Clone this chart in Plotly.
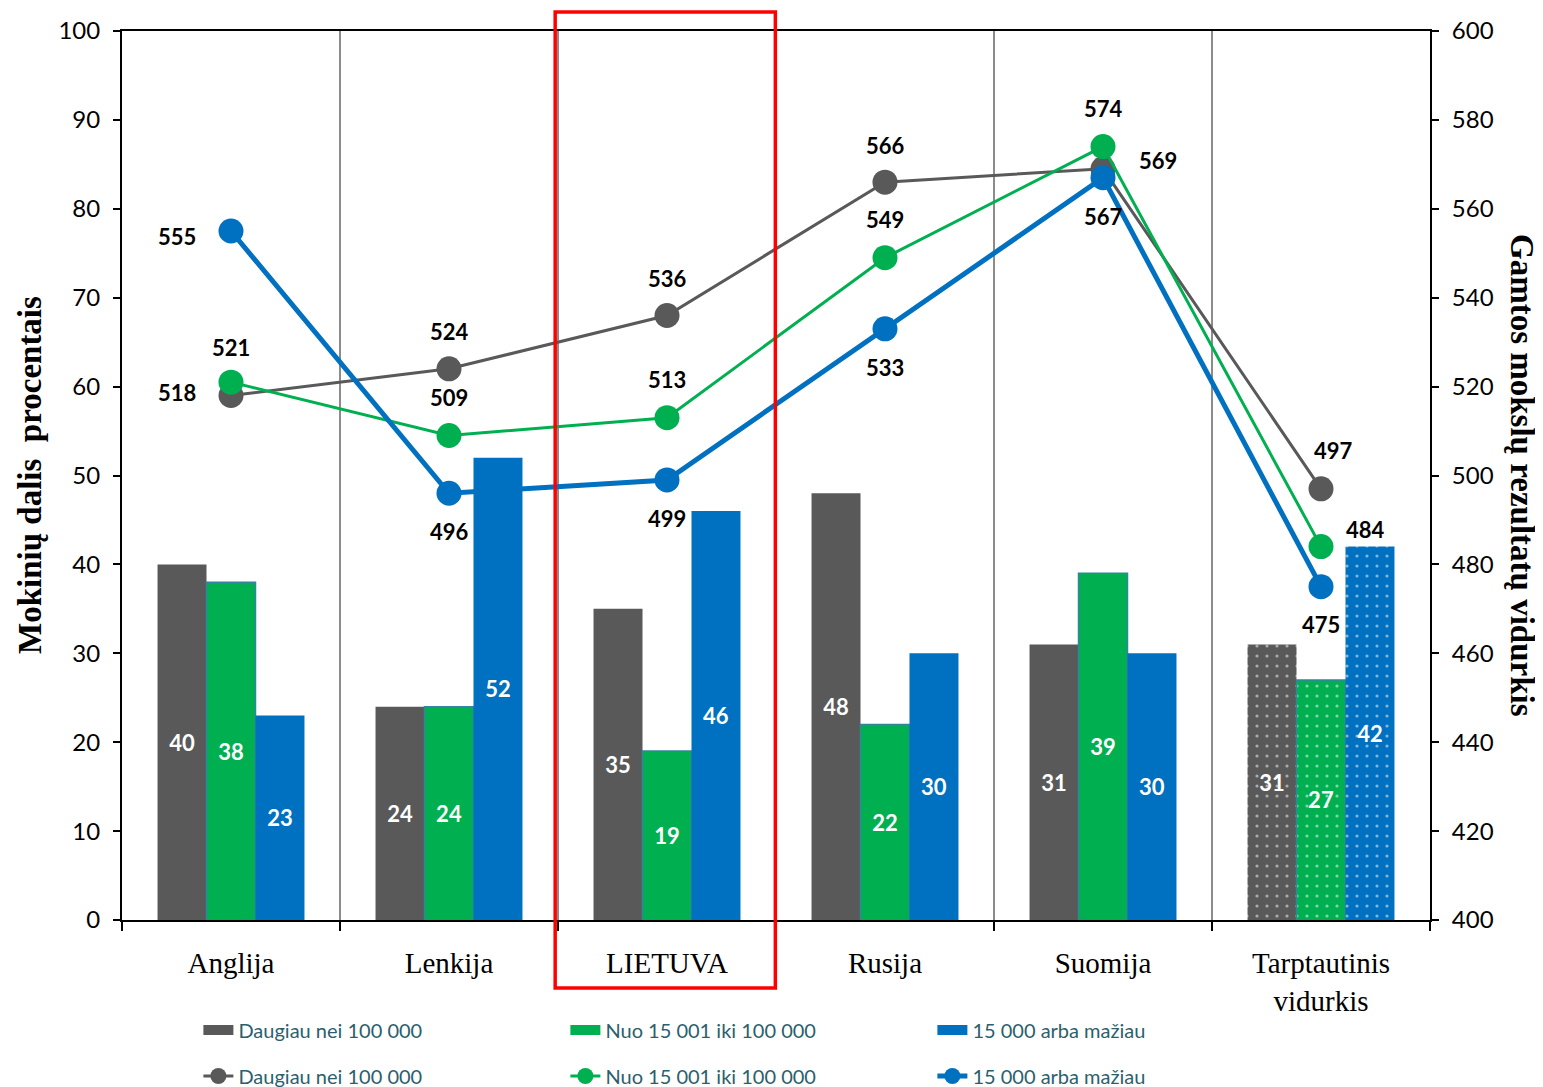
import plotly.graph_objects as go

# categories and values
countries = ["Anglija", "Lenkija", "LIETUVA", "Rusija", "Suomija", "Tarptautinis<br>vidurkis"]
groups = ["Daugiau nei 100 000", "Nuo 15 001 iki 100 000", "15 000 arba mažiau"]

share_big = [40, 24, 35, 48, 31, 31]
share_mid = [38, 24, 19, 22, 39, 27]
share_small = [23, 52, 46, 30, 30, 42]

score_big = [518, 524, 536, 566, 569, 497]
score_mid = [521, 509, 513, 549, 574, 484]
score_small = [555, 496, 499, 533, 567, 475]

grey = "#595959"
green = "#00B050"
blue = "#0070C0"
legend_col = "#2B5F6E"

# pixel offsets (dx, dy) of the score labels from their points
off_big = [(-54, 3), (0, 37), (0, 37), (0, 37), (55, 8), (12, 38)]
off_mid = [(0, 35), (0, 38), (0, 38), (0, 38), (0, 38), (44, 17)]
off_small = [(-54, -5), (0, -38), (0, -39), (0, -39), (0, -39), (0, -38)]

dots = ["", "", "", "", "", "."]

fig = go.Figure()

def add_bar(vals, name, color, line_color=None):
    fig.add_trace(go.Bar(
        x=countries, y=vals, name=name, showlegend=False,
        marker=dict(color=color,
                    line=dict(color=line_color or color, width=1.5 if line_color else 0),
                    pattern=dict(shape=dots, fgcolor="white", size=10, solidity=0.08)),
        text=vals, textposition="inside", insidetextanchor="middle",
        textangle=0,
        textfont=dict(family="Lato", size=22, color="white", weight="bold"),
    ))
    # wide legend swatch like the original
    fig.add_trace(go.Scatter(
        x=[None], y=[None], name=name, mode="lines",
        line=dict(color=color, width=12), legend="legend",
    ))

add_bar(share_big, groups[0], grey)
add_bar(share_mid, groups[1], green, "#31859C")
add_bar(share_small, groups[2], blue)

def add_line(vals, name, color, width, offs):
    fig.add_trace(go.Scatter(
        x=countries, y=vals, name=name, yaxis="y2",
        mode="lines+markers",
        line=dict(color=color, width=width),
        marker=dict(color=color, size=25),
        legend="legend2",
        cliponaxis=False,
    ))
    for c, v, (dx, dy) in zip(countries, vals, offs):
        fig.add_annotation(
            x=c, y=v, yref="y2", text=str(v), showarrow=False,
            xshift=dx, yshift=dy,
            font=dict(family="Lato", size=22, color="black", weight="bold"),
        )

add_line(score_big, groups[0], grey, 3, off_big)
add_line(score_mid, groups[1], green, 3, off_mid)
add_line(score_small, groups[2], blue, 5, off_small)

legend_common = dict(
    orientation="h", xref="paper", yref="paper", xanchor="left", yanchor="middle",
    font=dict(family="Lato", size=20, color=legend_col),
    entrywidth=322, bgcolor="rgba(0,0,0,0)", traceorder="normal",
)

# page body has an 8px margin, so the figure is 8px smaller than the window
fig.update_layout(
    width=1535, height=1079,
    margin=dict(l=114, r=113, t=23, b=167, autoexpand=False),
    plot_bgcolor="white", paper_bgcolor="white",
    barmode="group", bargap=0.326, bargroupgap=0,
    showlegend=True,
    legend=dict(x=0.0584, y=-0.1237, **legend_common),
    legend2=dict(x=0.0584, y=-0.1755, **legend_common),
    xaxis=dict(
        automargin=False,
        tickson="boundaries", ticks="outside", ticklen=9, tickwidth=2, tickcolor="black",
        showline=True, linecolor="black", linewidth=2, mirror=True,
        showgrid=True, gridcolor="#8C8C8C", gridwidth=1.5,
        ticklabelstandoff=16,
        tickfont=dict(family="Liberation Serif", size=29, color="black"),
    ),
    yaxis=dict(
        automargin=False,
        range=[0, 100], dtick=10, ticks="outside", ticklen=7, tickwidth=2, tickcolor="black",
        showline=True, linecolor="black", linewidth=2, showgrid=False, zeroline=False,
        ticklabelstandoff=8,
        tickfont=dict(family="Lato", size=24, color="black"),
    ),
    yaxis2=dict(
        automargin=False,
        range=[400, 600], dtick=20, overlaying="y", side="right",
        ticks="outside", ticklen=7, tickwidth=2, tickcolor="black",
        showline=True, linecolor="black", linewidth=2, showgrid=False, zeroline=False,
        ticklabelstandoff=8,
        tickfont=dict(family="Lato", size=24, color="black"),
    ),
)

title_font = dict(family="Liberation Serif", size=33, color="black", weight="bold")
fig.add_annotation(
    text="Mokinių dalis  procentais", textangle=-90,
    xref="paper", yref="paper", x=(30 - 122) / 1308, y=(920 - 475) / 889,
    xanchor="center", yanchor="middle", showarrow=False, font=title_font,
)
# right axis title reads top to bottom
fig.add_annotation(
    text="Gamtos mokslų rezultatų vidurkis", textangle=90,
    xref="paper", yref="paper", x=(1522 - 122) / 1308, y=(920 - 475) / 889,
    xanchor="center", yanchor="middle", showarrow=False, font=title_font,
)

# red frame around LIETUVA
fig.add_shape(
    type="rect", xref="x", yref="paper",
    x0=1.487, x1=2.497, y0=-0.0765, y1=1.0214,
    line=dict(color="#FF0000", width=3.5), fillcolor="rgba(0,0,0,0)",
)

fig.write_html("out.html")
